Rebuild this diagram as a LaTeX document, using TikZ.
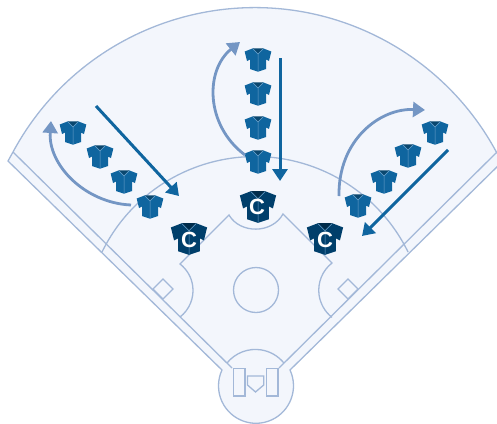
\documentclass[tikz,border=0pt]{standalone}
\usepackage{fontspec}
\setsansfont{Liberation Sans}
\usetikzlibrary{arrows.meta}
\definecolor{fieldfill}{HTML}{F3F6FC}
\definecolor{fieldline}{HTML}{A3B8D8}
\definecolor{shirtblue}{HTML}{0F659F}
\definecolor{shirtdark}{HTML}{003F6B}
\definecolor{shirtlite}{HTML}{6FA3CC}
\definecolor{runlite}{HTML}{7496C4}
\tikzset{fieldln/.style={draw=fieldline,line width=1.3pt},
  runarr/.style={draw=shirtblue,line width=3pt,-{Triangle[length=12pt,width=15pt]}},
  swingarr/.style={draw=runlite,line width=2.8pt,-{Triangle[length=12pt,width=15pt]}},
  capt/.style={text=white,font=\sffamily\bfseries\fontsize{22}{22}\selectfont,inner sep=0pt},
  pics/jersey/.style={code={
    \fill[#1] (-13.3,-8.5) -- (-11,1) -- (-8,-0.5) -- (-8,9) -- (0,11.7) -- (8,9)
      -- (8,-0.5) -- (11,1) -- (13.3,-8.5) -- (5,-11.7) -- (0,-8) -- (-5,-11.7) -- cycle;
    \fill[#1!70!black] (-5,-11.7) -- (0,-6.5) -- (5,-11.7) -- cycle; % collar
    \draw[shirtlite,line width=0.5pt] (-5,-11) -- (0,-6) -- (5,-11) (0,-6) -- (0,11.5);
  }}}
\begin{document}
\begin{tikzpicture}[x=1pt,y=-1pt]
  \useasboundingbox (0,0) rectangle (497,423);
  \clip (0,0) rectangle (497,423);
  % outer wall, foul lines, home circle
  \filldraw[fieldln,fill=fieldfill] (8,161) -- (13,152) arc[start angle=208.3,end angle=331.7,radius=274.5]
    -- (503,161) -- (290,370) arc[start angle=-24.9,end angle=204.9,radius=37.5] -- cycle;
  \draw[fieldln] (13,152) -- (232,368);
  \draw[fieldln] (497,152) -- (279,368);
  \draw[fieldln] (227,363) arc[start angle=219,end angle=321,radius=36.6];
  \draw[fieldln] (102,252) arc[start angle=206.1,end angle=333.9,radius=170.4];
  % infield grass
  \draw[fieldln] (180,317) arc[start angle=52.3,end angle=-52.3,radius=33.5] -- (229,215)
    .. controls (240,234) and (272,234) .. (283,214) -- (332,263)
    arc[start angle=232,end angle=128,radius=34.5];
  \draw[fieldln] (256,290) circle[radius=22.5];
  % bases
  \draw[fieldln] (163,279) -- (173,289) -- (163,299) -- (153,289) -- cycle;
  \draw[fieldln] (348,279) -- (358,289) -- (348,299) -- (338,289) -- cycle;
  \draw[fieldln] (233.5,368.5) rectangle (245,396);
  \draw[fieldln] (266.5,368.5) rectangle (278,396);
  \draw[fieldln] (247.5,376) -- (263.7,376) -- (263.7,385) -- (255.5,392) -- (247.5,385) -- cycle;
  % players
  \foreach \px/\py in {73/133,100/157,124/182,150/207,258/60,258/94,258/128,258/162,435/133,408/156,384/182,358/206}
    \pic at (\px,\py) {jersey=shirtblue};
  \pic[scale=1.36] at (189,239) {jersey=shirtdark};
  \pic[scale=1.36] at (258,207) {jersey=shirtdark};
  \pic[scale=1.36] at (325,239) {jersey=shirtdark};
  \node[capt] (captl) at (189,240) {C};
  \node[capt] (captm) at (257,207) {C};
  \node[capt] (captr) at (325,240) {C};
  % runs
  \coordinate (lfrom) at (96,106);
  \coordinate (lto) at (179,196);
  \coordinate (mfrom) at (280,58);
  \coordinate (mto) at (280,181);
  \coordinate (rfrom) at (448,150);
  \coordinate (rto) at (362,236);
  \draw[runarr] (lfrom) -- (lto);
  \draw[runarr] (mfrom) -- (mto);
  \draw[runarr] (rfrom) -- (rto);
  % swings
  \coordinate (lback) at (131,205);
  \coordinate (ltip) at (51,121);
  \coordinate (mback) at (245,155);
  \coordinate (mtip) at (240,42);
  \coordinate (rback) at (339,196);
  \coordinate (rtip) at (425,110);
  \draw[swingarr] (lback) .. controls (85,203) and (48,165) .. (ltip);
  \draw[swingarr] (mback) .. controls (205,125) and (205,70) .. (mtip);
  \draw[swingarr] (rback) .. controls (338,140) and (380,108) .. (rtip);
\end{tikzpicture}
\end{document}
